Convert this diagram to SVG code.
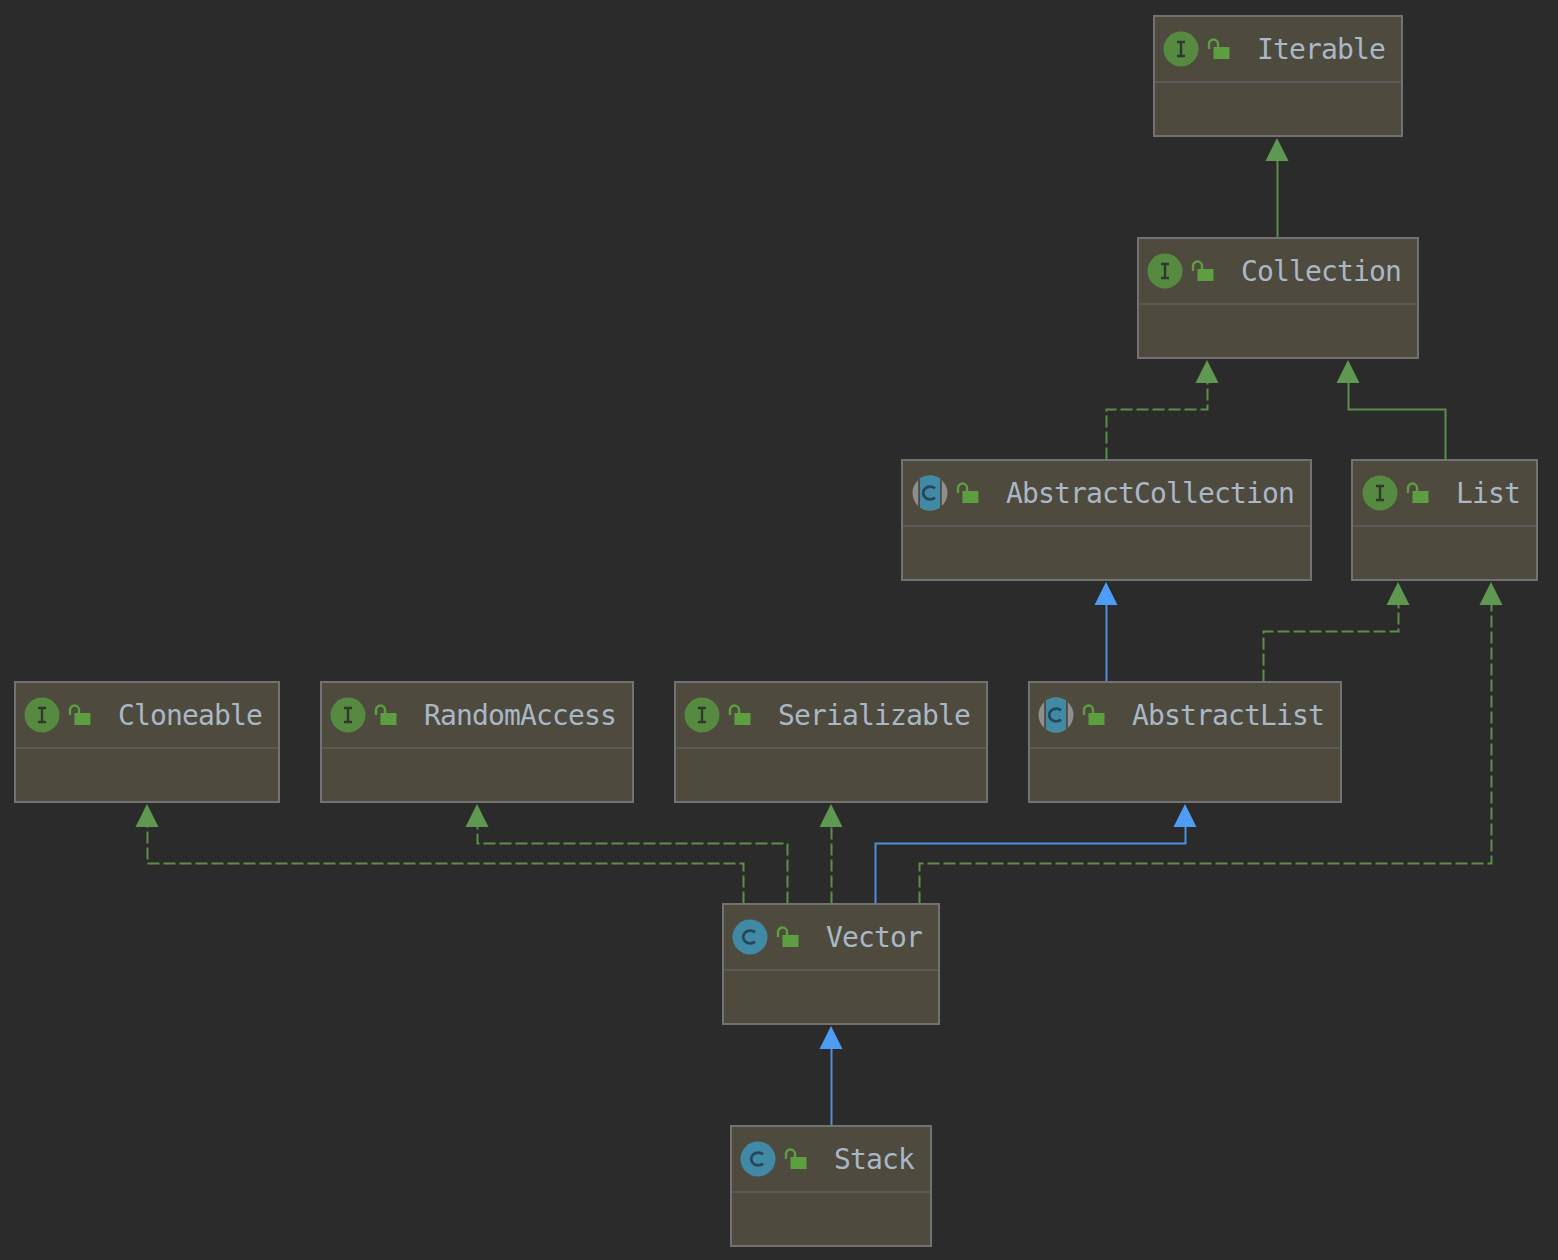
<svg xmlns="http://www.w3.org/2000/svg" width="1558" height="1260" viewBox="0 0 1558 1260">
<style>
.box{fill:#4e4a3e;stroke:#727272;stroke-width:2}
.div{stroke:#5c5a56;stroke-width:2}
.t{font-family:"DejaVu Sans Mono",monospace;font-size:28px;letter-spacing:-.86px;fill:#a9b7c6}
.edge{fill:none;stroke-width:2;transform:translate(.5px,.5px)}
.g{stroke:#5a8f4a}
.b{stroke:#4f8fdc}
.d{stroke-dasharray:12 4}
.ag{fill:#5f9851}
.ab{fill:#4f9cf5}
</style>
<defs>
<g id="lock"><path d="M0 9V4A4.500 4.500 0 0 1 9 4V7" fill="none" stroke="#5c9e40" stroke-width="2.400"/><rect x="4.500" y="7" width="16" height="12" fill="#5c9e40"/></g>
<g id="iI"><circle r="17.500" fill="#568a40"/><path d="M-4-7H4M-4 7H4M0-7V7" stroke="#2f3a2c" stroke-width="2.400" fill="none"/></g>
<path id="cg" d="M5-4.600A7 6.300 0 1 0 5 4.600" stroke="#28465a" stroke-width="2.800" fill="none"/>
<g id="iC"><circle r="17.500" fill="#418aa5"/><use href="#cg"/></g>
<g id="iA"><circle r="17.500" fill="#8c8e90"/><path d="M-10.800-14V14M10.800-14V14" stroke="#4e4a3e" stroke-width="2"/><path d="M-10-14.400A17.500 17.500 0 0 1 10-14.400V14.400A17.500 17.500 0 0 1-10 14.400Z" fill="#418aa5"/><use href="#cg"/></g>
</defs>
<rect width="1558" height="1260" fill="#2b2b2b"/>
<g id="connectors">
<path class="edge g" d="M1277 237V158"/><path class="ag" d="M1277 138l-11.500 23h23z"/>
<path class="edge g d" d="M1106 459V409H1207V380"/><path class="ag" d="M1207 360l-11.500 23h23z"/>
<path class="edge g" d="M1445 459V409H1348V380"/><path class="ag" d="M1348 360l-11.500 23h23z"/>
<path class="edge b" d="M1106 681V602"/><path class="ab" d="M1106 582l-11.500 23h23z"/>
<path class="edge g d" d="M1263 681V631H1398V602"/><path class="ag" d="M1398 582l-11.500 23h23z"/>
<path class="edge g d" d="M743 903V863H147V824"/><path class="ag" d="M147 804l-11.500 23h23z"/>
<path class="edge g d" d="M787 903V843H477V824"/><path class="ag" d="M477 804l-11.500 23h23z"/>
<path class="edge g d" d="M831 903V824"/><path class="ag" d="M831 804l-11.500 23h23z"/>
<path class="edge b" d="M875 903V843H1185V824"/><path class="ab" d="M1185 804l-11.500 23h23z"/>
<path class="edge g d" d="M919 903V863H1491V602"/><path class="ag" d="M1491 582l-11.500 23h23z"/>
<path class="edge b" d="M831 1125V1046"/><path class="ab" d="M831 1026l-11.500 23h23z"/>
</g>
<g id="Iterable"><rect class="box" x="1154" y="16" width="248" height="120"/><path class="div" d="M1155 82H1401"/><use href="#iI" x="1181" y="49"/><use href="#lock" x="1209" y="40"/><text class="t" x="1257" y="59">Iterable</text></g>
<g id="Collection"><rect class="box" x="1138" y="238" width="280" height="120"/><path class="div" d="M1139 304H1417"/><use href="#iI" x="1165" y="271"/><use href="#lock" x="1193" y="262"/><text class="t" x="1241" y="281">Collection</text></g>
<g id="AbstractCollection"><rect class="box" x="902" y="460" width="409" height="120"/><path class="div" d="M903 526H1310"/><use href="#iA" x="930" y="493"/><use href="#lock" x="958" y="484"/><text class="t" x="1006" y="503">AbstractCollection</text></g>
<g id="List"><rect class="box" x="1352" y="460" width="185" height="120"/><path class="div" d="M1353 526H1536"/><use href="#iI" x="1380" y="493"/><use href="#lock" x="1408" y="484"/><text class="t" x="1456" y="503">List</text></g>
<g id="Cloneable"><rect class="box" x="15" y="682" width="264" height="120"/><path class="div" d="M16 748H278"/><use href="#iI" x="42" y="715"/><use href="#lock" x="70" y="706"/><text class="t" x="118" y="725">Cloneable</text></g>
<g id="RandomAccess"><rect class="box" x="321" y="682" width="312" height="120"/><path class="div" d="M322 748H632"/><use href="#iI" x="348" y="715"/><use href="#lock" x="376" y="706"/><text class="t" x="424" y="725">RandomAccess</text></g>
<g id="Serializable"><rect class="box" x="675" y="682" width="312" height="120"/><path class="div" d="M676 748H986"/><use href="#iI" x="702" y="715"/><use href="#lock" x="730" y="706"/><text class="t" x="778" y="725">Serializable</text></g>
<g id="AbstractList"><rect class="box" x="1029" y="682" width="312" height="120"/><path class="div" d="M1030 748H1340"/><use href="#iA" x="1056" y="715"/><use href="#lock" x="1084" y="706"/><text class="t" x="1132" y="725">AbstractList</text></g>
<g id="Vector"><rect class="box" x="723" y="904" width="216" height="120"/><path class="div" d="M724 970H938"/><use href="#iC" x="750" y="937"/><use href="#lock" x="778" y="928"/><text class="t" x="826" y="947">Vector</text></g>
<g id="Stack"><rect class="box" x="731" y="1126" width="200" height="120"/><path class="div" d="M732 1192H930"/><use href="#iC" x="758" y="1159"/><use href="#lock" x="786" y="1150"/><text class="t" x="834" y="1169">Stack</text></g>
</svg>
